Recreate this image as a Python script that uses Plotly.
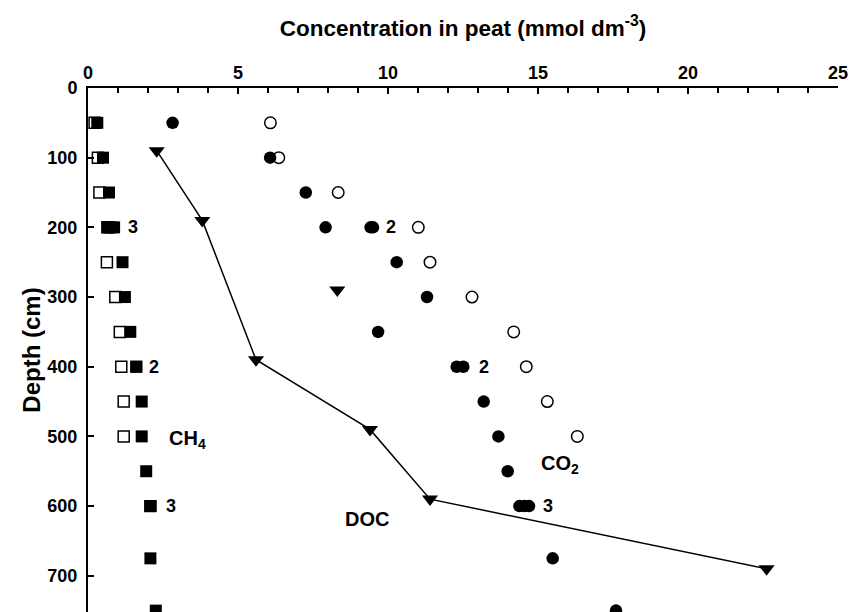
import plotly.graph_objects as go

# ---- data ----
ch4_open_depth = [50, 100, 150, 200, 250, 300, 350, 400, 450, 500]
ch4_open_conc = [0.22, 0.33, 0.38, 0.65, 0.63, 0.91, 1.06, 1.11, 1.19, 1.19]

ch4_filled_depth = [50, 100, 150, 200, 200, 200, 250, 300, 350, 400, 400, 450, 500, 550, 600, 600, 600, 675, 750]
ch4_filled_conc = [0.31, 0.50, 0.70, 0.65, 0.76, 0.87, 1.15, 1.23, 1.41, 1.61, 1.61, 1.79, 1.79, 1.94, 2.08, 2.08, 2.08, 2.08, 2.26]

co2_open_depth = [50, 100, 150, 200, 250, 300, 350, 400, 450, 500]
co2_open_conc = [6.08, 6.36, 8.34, 11.01, 11.40, 12.80, 14.19, 14.61, 15.31, 16.31]

co2_filled_depth = [50, 100, 150, 200, 200, 200, 250, 300, 350, 400, 400, 450, 500, 550, 600, 600, 600, 675, 750]
co2_filled_conc = [2.82, 6.07, 7.26, 7.92, 9.42, 9.50, 10.29, 11.30, 9.67, 12.29, 12.51, 13.19, 13.68, 13.99, 14.38, 14.55, 14.70, 15.49, 17.60]

doc_depth = [90, 190, 290, 390, 490, 590, 690]
doc_conc = [2.29, 3.81, 8.31, 5.60, 9.40, 11.40, 22.62]
doc_line_depth = [90, 190, 390, 490, 590, 690]
doc_line_conc = [2.29, 3.81, 5.60, 9.40, 11.40, 22.62]

# replicate-count labels: (conc, depth, text)
rep_labels = [(1.27, 200, "3"), (1.96, 400, "2"), (2.53, 600, "3"),
              (9.87, 200, "2"), (12.98, 400, "2"), (15.09, 600, "3")]
species_labels = [(2.62, 505, "CH<sub>4</sub>"), (15.04, 540, "CO<sub>2</sub>"), (8.51, 619, "DOC")]

FONT = "Liberation Sans, Arial, sans-serif"

fig = go.Figure()
fig.add_trace(go.Scatter(x=ch4_open_conc, y=ch4_open_depth, mode="markers",
                         marker=dict(symbol="square", size=11, color="white",
                                     line=dict(color="black", width=1.5))))
fig.add_trace(go.Scatter(x=ch4_filled_conc, y=ch4_filled_depth, mode="markers",
                         marker=dict(symbol="square", size=12, color="black", line=dict(width=0))))
fig.add_trace(go.Scatter(x=co2_open_conc, y=co2_open_depth, mode="markers",
                         marker=dict(symbol="circle", size=11.5, color="white",
                                     line=dict(color="black", width=1.5))))
fig.add_trace(go.Scatter(x=co2_filled_conc, y=co2_filled_depth, mode="markers",
                         marker=dict(symbol="circle", size=12.5, color="black", line=dict(width=0))))
fig.add_trace(go.Scatter(x=doc_line_conc, y=doc_line_depth, mode="lines",
                         line=dict(color="black", width=1.5)))
fig.add_trace(go.Scatter(x=doc_conc, y=doc_depth, mode="markers",
                         marker=dict(symbol="triangle-down", size=14, color="black", line=dict(width=0))))

for x, y, t in rep_labels:
    fig.add_annotation(x=x, y=y, text=t, showarrow=False, xanchor="left", yanchor="middle",
                       font=dict(family=FONT, size=18, color="black", weight="bold"))
for x, y, t in species_labels:
    fig.add_annotation(x=x, y=y, text=t, showarrow=False, xanchor="left", yanchor="middle",
                       font=dict(family=FONT, size=20, color="black", weight="bold"))

fig.update_layout(
    width=849, height=612,
    margin=dict(l=88, r=11, t=88, b=0),
    paper_bgcolor="white", plot_bgcolor="white",
    showlegend=False,
    font=dict(family=FONT, color="black"),
    xaxis=dict(
        side="top", range=[0, 25], dtick=5, tick0=0,
        showline=True, linecolor="black", linewidth=2,
        ticks="inside", ticklen=6, tickwidth=1.5, tickcolor="black",
        minor=dict(dtick=1, ticks="inside", ticklen=5, tickwidth=1.5, tickcolor="black"),
        showgrid=False, zeroline=False,
        tickfont=dict(family=FONT, size=18, color="black", weight="bold"),
        title=dict(text="Concentration in peat (mmol dm<sup>-3</sup>)", standoff=20,
                   font=dict(family=FONT, size=22.5, color="black", weight="bold")),
    ),
    yaxis=dict(
        range=[752, 0], dtick=100, tick0=0,
        showline=True, linecolor="black", linewidth=2,
        ticks="inside", ticklen=6, tickwidth=1.5, tickcolor="black",
        ticklabelstandoff=5,
        showgrid=False, zeroline=False,
        tickfont=dict(family=FONT, size=18, color="black", weight="bold"),
        title=dict(text="Depth (cm)", standoff=0,
                   font=dict(family=FONT, size=24, color="black", weight="bold")),
    ),
)

fig.write_html("out.html")
